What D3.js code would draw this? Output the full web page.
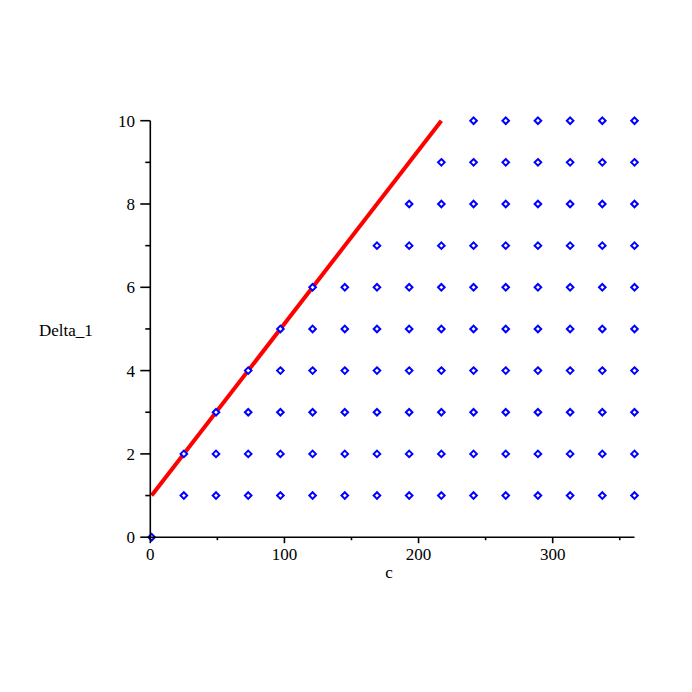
<!DOCTYPE html>
<html><head><meta charset="utf-8">
<script src="https://cdn.jsdelivr.net/npm/d3@7"></script>
<style>html,body{margin:0;padding:0;background:#fff;}</style>
</head><body>
<script>
// Data
const deltaLevels = [0,1,2,3,4,5,6,7,8,9,10];
const rowStartC   = [1,25,25,49,73,97,121,169,193,217,241];
const rowEndC     = [1,361,361,361,361,361,361,361,361,361,361];
const cStep = 24;
const lineC = [1, 217];
const lineDelta = [1, 10];
const xMajorTicks = [0,100,200,300];
const xMinorTicks = [50,150,250,350];
const yMajorTicks = [0,2,4,6,8,10];
const yMinorTicks = [1,3,5,7,9];

const W = 692, H = 692;
const svg = d3.select("body").append("svg").attr("width", W).attr("height", H);

const x = d3.scaleLinear().domain([0, 361]).range([150.3, 634.5]);
const y = d3.scaleLinear().domain([0, 10]).range([537.2, 120.7]);

// points
const pts = [];
deltaLevels.forEach((d, i) => {
  for (let c = rowStartC[i]; c <= rowEndC[i]; c += cStep) pts.push({c: c, d: d});
});

const font = "'Liberation Serif','Times New Roman',serif";

// red line
svg.append("path")
  .datum(lineC.map((c, i) => [c, lineDelta[i]]))
  .attr("d", d3.line().x(p => x(p[0])).y(p => y(p[1])))
  .attr("fill", "none").attr("stroke", "#ff0000").attr("stroke-width", 4).attr("stroke-linecap", "butt");

// points (diamonds)
svg.append("g").selectAll("path").data(pts).join("path")
  .attr("transform", p => `translate(${x(p.c)},${y(p.d)})`)
  .attr("d", "M0,-3.3L3.3,0L0,3.3L-3.3,0Z")
  .attr("fill", "#fff").attr("stroke", "#0000ff").attr("stroke-width", 2);

// axes
const ax = svg.append("g").attr("stroke", "#000").attr("stroke-width", 1.6);
ax.append("line").attr("x1", x(0)).attr("x2", x(0)).attr("y1", y(0)).attr("y2", y(10));
ax.append("line").attr("x1", x(0)).attr("x2", x(361)).attr("y1", y(0)).attr("y2", y(0));
xMajorTicks.forEach(t => ax.append("line").attr("x1", x(t)).attr("x2", x(t)).attr("y1", y(0)).attr("y2", y(0) + 6));
xMinorTicks.forEach(t => ax.append("line").attr("x1", x(t)).attr("x2", x(t)).attr("y1", y(0)).attr("y2", y(0) + 3));
yMajorTicks.forEach(t => ax.append("line").attr("x1", x(0) - 10).attr("x2", x(0)).attr("y1", y(t)).attr("y2", y(t)));
yMinorTicks.forEach(t => ax.append("line").attr("x1", x(0) - 5).attr("x2", x(0)).attr("y1", y(t)).attr("y2", y(t)));

const tx = svg.append("g").attr("font-family", font).attr("font-size", 17).attr("fill", "#000");
xMajorTicks.forEach(t => tx.append("text").attr("x", x(t)).attr("y", 560).attr("text-anchor", "middle").text(t));
yMajorTicks.forEach(t => tx.append("text").attr("x", 135).attr("y", y(t)).attr("dy", "0.35em").attr("text-anchor", "end").text(t));
tx.append("text").attr("x", 389).attr("y", 578).attr("text-anchor", "middle").text("c");
tx.append("text").attr("x", 39).attr("y", 336).attr("text-anchor", "start").text("Delta_1");
</script>
</body></html>
